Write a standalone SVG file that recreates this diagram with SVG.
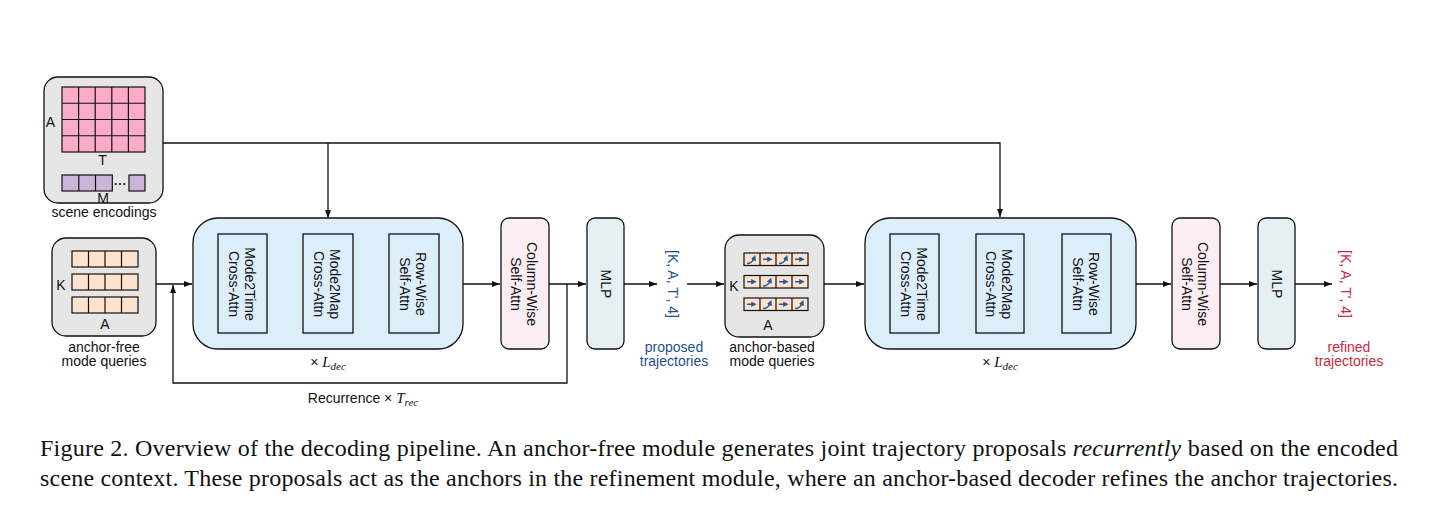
<svg xmlns="http://www.w3.org/2000/svg" width="1452" height="524" viewBox="0 0 1452 524">
<style>
text{font-family:"Liberation Sans",Arial,sans-serif;font-size:14px;fill:#111}
.lbl{font-size:14px;text-anchor:middle}
.grp{fill:#e6e6e6;stroke:#111;stroke-width:1.3}
.blue{fill:#ddeefb;stroke:#111;stroke-width:1.3}
.inner{fill:#ddeefb;stroke:#111;stroke-width:1.3}
.col{fill:#fbeef3;stroke:#111;stroke-width:1.3}
.mlp{fill:#e6eff3;stroke:#111;stroke-width:1.3}
.pink{fill:#f9abc9;stroke:#111;stroke-width:1.2}
.purp{fill:#cdb5da;stroke:#111;stroke-width:1.2}
.peach{fill:#fde3cd;stroke:#111;stroke-width:1.2}
.gl{fill:none;stroke:#111;stroke-width:1.2}
.conn{fill:none;stroke:#111;stroke-width:1.3}
.ca{fill:none;stroke:#1f5aa0;stroke-width:1.5}
.math{font-family:"Liberation Serif","Times New Roman",serif;font-style:italic}
.cap{font-family:"Liberation Serif","Times New Roman",serif;font-size:24px;fill:#111}
.bt{fill:#1f4e8e}
.rt{fill:#c42b3c}
</style>
<defs>
<marker id="ah" viewBox="0 0 8 6" refX="8" refY="3" markerWidth="8" markerHeight="6" markerUnits="userSpaceOnUse" orient="auto"><path d="M0,0L8,3L0,6z" fill="#111"/></marker>
<marker id="bh" viewBox="0 0 6 6" refX="2" refY="3" markerWidth="5.5" markerHeight="5.5" markerUnits="userSpaceOnUse" orient="auto"><path d="M0,0L6,3L0,6z" fill="#1f5aa0"/></marker>
</defs>

<g id="connectors">
<path class="conn" d="M163,143H1000V217" marker-end="url(#ah)"/>
<path class="conn" d="M328,143V218" marker-end="url(#ah)"/>
<path class="conn" d="M156,284H192" marker-end="url(#ah)"/>
<path class="conn" d="M567,284V383H173V285" marker-end="url(#ah)"/>
<path class="conn" d="M267,284H302" marker-end="url(#ah)"/>
<path class="conn" d="M353,284H388" marker-end="url(#ah)"/>
<path class="conn" d="M463,284H500" marker-end="url(#ah)"/>
<path class="conn" d="M549,284H586" marker-end="url(#ah)"/>
<path class="conn" d="M624,284H657" marker-end="url(#ah)"/>
<path class="conn" d="M687,284H724" marker-end="url(#ah)"/>
<path class="conn" d="M824,284H864" marker-end="url(#ah)"/>
<path class="conn" d="M939,284H975" marker-end="url(#ah)"/>
<path class="conn" d="M1024,284H1061" marker-end="url(#ah)"/>
<path class="conn" d="M1136,284H1171" marker-end="url(#ah)"/>
<path class="conn" d="M1220,284H1257" marker-end="url(#ah)"/>
<path class="conn" d="M1295,284H1332" marker-end="url(#ah)"/>
</g>

<g id="scene-encodings">
<rect class="grp" x="44" y="77" width="119" height="126" rx="14"/>
<rect class="pink" x="62" y="87" width="83" height="65"/>
<path class="gl" d="M78.6,87V152M95.2,87V152M111.8,87V152M128.4,87V152M62,103.25H145M62,119.5H145M62,135.75H145"/>
<rect class="purp" x="62" y="175" width="50.3" height="16"/>
<path class="gl" d="M78.8,175V191M95.5,175V191"/>
<rect class="purp" x="129" y="175" width="16" height="16"/>
<circle cx="115.7" cy="184" r="1.1" fill="#111"/>
<circle cx="120" cy="184" r="1.1" fill="#111"/>
<circle cx="124.3" cy="184" r="1.1" fill="#111"/>
<text x="50.5" y="127" class="lbl">A</text>
<text x="102.5" y="165" class="lbl">T</text>
<text x="103" y="203" class="lbl">M</text>
<text x="104" y="217" class="lbl" font-size="14.5">scene encodings</text>
</g>

<g id="anchor-free-queries">
<rect class="grp" x="52" y="238" width="104" height="98" rx="14"/>
<rect class="peach" x="72" y="251" width="66" height="16"/>
<rect class="peach" x="72" y="274" width="66" height="16"/>
<rect class="peach" x="72" y="297" width="66" height="16"/>
<path class="gl" d="M88.5,251V267M105,251V267M121.5,251V267M88.5,274V290M105,274V290M121.5,274V290M88.5,297V313M105,297V313M121.5,297V313"/>
<text x="61" y="290" class="lbl">K</text>
<text x="105" y="329" class="lbl">A</text>
<text x="104" y="352" class="lbl">anchor-free</text>
<text x="104" y="366" class="lbl">mode queries</text>
</g>

<g id="decoder-1">
<rect class="blue" x="193" y="218" width="270" height="131" rx="25"/>
<rect class="inner" x="218" y="234" width="49" height="99"/>
<rect class="inner" x="303" y="234" width="50" height="99"/>
<rect class="inner" x="389" y="234" width="50" height="99"/>
<text transform="translate(242.5,284) rotate(90)" class="lbl"><tspan x="0" y="-2">Mode2Time</tspan><tspan x="0" y="14">Cross-Attn</tspan></text>
<text transform="translate(328,284) rotate(90)" class="lbl"><tspan x="0" y="-2">Mode2Map</tspan><tspan x="0" y="14">Cross-Attn</tspan></text>
<text transform="translate(414,284) rotate(90)" class="lbl"><tspan x="0" y="-2">Row-Wise</tspan><tspan x="0" y="14">Self-Attn</tspan></text>
<text x="328" y="367" class="lbl">× <tspan class="math" font-size="15">L</tspan><tspan class="math" font-size="11" dy="3">dec</tspan></text>
</g>

<g id="recurrence-label">
<text x="363" y="403" class="lbl" font-size="13.5">Recurrence × <tspan class="math" font-size="15">T</tspan><tspan class="math" font-size="11" dy="3">rec</tspan></text>
</g>

<g id="column-wise-1">
<rect class="col" x="501" y="218" width="48" height="131" rx="8"/>
<text transform="translate(525,284) rotate(90)" class="lbl"><tspan x="0" y="-2">Column-Wise</tspan><tspan x="0" y="14">Self-Attn</tspan></text>
</g>

<g id="mlp-1">
<rect class="mlp" x="587" y="218" width="37" height="131" rx="8"/>
<text transform="translate(605.5,284) rotate(90)" class="lbl" y="5">MLP</text>
</g>

<g id="proposed-trajectories">
<text transform="translate(673,284) rotate(90)" class="lbl bt" y="5">[K, A, T', 4]</text>
<text x="674" y="352" class="lbl bt">proposed</text>
<text x="674" y="366" class="lbl bt">trajectories</text>
</g>

<g id="anchor-based-queries">
<rect class="grp" x="725" y="235" width="99" height="102" rx="14"/>
<rect class="peach" x="744" y="253" width="64" height="12.5"/>
<rect class="peach" x="744" y="275.5" width="64" height="12.5"/>
<rect class="peach" x="744" y="298" width="64" height="12.5"/>
<path class="gl" d="M760,253V265.5M776,253V265.5M792,253V265.5M760,275.5V288M776,275.5V288M792,275.5V288M760,298V310.5M776,298V310.5M792,298V310.5"/>
<g marker-end="url(#bh)">
<path class="ca" d="M747,263.5Q752,263.5 754,258.5"/>
<path class="ca" d="M763,259.25H769"/>
<path class="ca" d="M779,263.5Q784,263.5 786,258.5"/>
<path class="ca" d="M795,259.25H801"/>
<path class="ca" d="M747,281.75H753"/>
<path class="ca" d="M763,286Q768,286 770,281"/>
<path class="ca" d="M779,281.75H785"/>
<path class="ca" d="M795,281.75H801"/>
<path class="ca" d="M747,304.25H753"/>
<path class="ca" d="M763,308.5Q768,308.5 770,303.5"/>
<path class="ca" d="M779,304.25H785"/>
<path class="ca" d="M795,308.5Q800,308.5 802,303.5"/>
</g>
<text x="734" y="291" class="lbl">K</text>
<text x="768" y="330" class="lbl">A</text>
<text x="772" y="352" class="lbl">anchor-based</text>
<text x="772" y="366" class="lbl">mode queries</text>
</g>

<g id="decoder-2">
<rect class="blue" x="865" y="218" width="271" height="131" rx="25"/>
<rect class="inner" x="890" y="234" width="49" height="99"/>
<rect class="inner" x="976" y="234" width="48" height="99"/>
<rect class="inner" x="1062" y="234" width="49" height="99"/>
<text transform="translate(914.5,284) rotate(90)" class="lbl"><tspan x="0" y="-2">Mode2Time</tspan><tspan x="0" y="14">Cross-Attn</tspan></text>
<text transform="translate(1000,284) rotate(90)" class="lbl"><tspan x="0" y="-2">Mode2Map</tspan><tspan x="0" y="14">Cross-Attn</tspan></text>
<text transform="translate(1086.5,284) rotate(90)" class="lbl"><tspan x="0" y="-2">Row-Wise</tspan><tspan x="0" y="14">Self-Attn</tspan></text>
<text x="1000" y="367" class="lbl">× <tspan class="math" font-size="15">L</tspan><tspan class="math" font-size="11" dy="3">dec</tspan></text>
</g>

<g id="column-wise-2">
<rect class="col" x="1172" y="218" width="48" height="131" rx="8"/>
<text transform="translate(1196,284) rotate(90)" class="lbl"><tspan x="0" y="-2">Column-Wise</tspan><tspan x="0" y="14">Self-Attn</tspan></text>
</g>

<g id="mlp-2">
<rect class="mlp" x="1258" y="218" width="37" height="131" rx="8"/>
<text transform="translate(1276.5,284) rotate(90)" class="lbl" y="5">MLP</text>
</g>

<g id="refined-trajectories">
<text transform="translate(1346,284) rotate(90)" class="lbl rt" y="5">[K, A, T', 4]</text>
<text x="1349" y="352" class="lbl rt">refined</text>
<text x="1349" y="366" class="lbl rt">trajectories</text>
</g>

<g id="caption">
<text class="cap" x="40" y="456" textLength="1358" lengthAdjust="spacing">Figure 2. Overview of the decoding pipeline. An anchor-free module generates joint trajectory proposals <tspan font-style="italic">recurrently</tspan> based on the encoded</text>
<text class="cap" x="40" y="486" textLength="1358" lengthAdjust="spacing">scene context. These proposals act as the anchors in the refinement module, where an anchor-based decoder refines the anchor trajectories.</text>
</g>
</svg>
